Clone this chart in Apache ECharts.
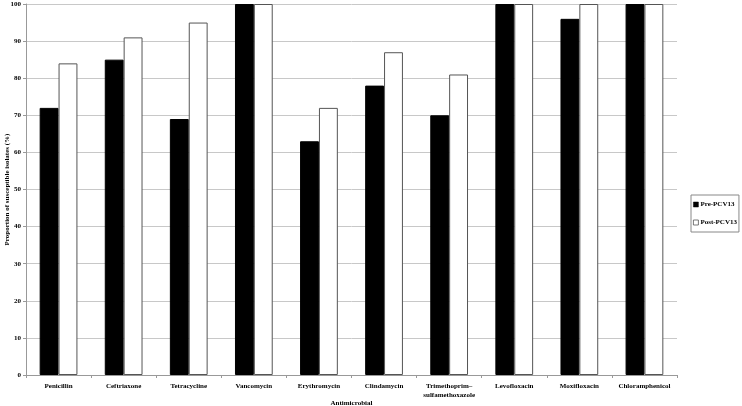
<!DOCTYPE html>
<html><head><meta charset="utf-8">
<script src="https://cdn.jsdelivr.net/npm/echarts@6/dist/echarts.min.js"></script>
<style>html,body{margin:0;padding:0;background:#fff}#c{width:742px;height:406px}</style>
</head><body><div id="c"></div>
<script>
const categories = ['Penicillin','Ceftriaxone','Tetracycline','Vancomycin','Erythromycin','Clindamycin','Trimethoprim–\nsulfamethoxazole','Levofloxacin','Moxifloxacin','Chloramphenicol'];
const prePCV13 = [72, 85, 69, 100, 63, 78, 70, 100, 96, 100];
const postPCV13 = [84, 91, 95, 100, 72, 87, 81, 100, 100, 100];
const yTicks = [0,10,20,30,40,50,60,70,80,90,100];

const font = 'Liberation Serif';
const chart = echarts.init(document.getElementById('c'));
chart.setOption({
  animation: false,
  textStyle: {fontFamily: font},
  grid: {left: 26, right: 65, top: 4, bottom: 31, containLabel: false, outerBoundsMode: 'none'},
  legend: {
    orient: 'vertical', left: 691, top: 195, itemWidth: 5, itemHeight: 5, itemGap: 11,
    padding: [6, 2, 6, 2], borderColor: '#888', borderWidth: 1,
    textStyle: {fontFamily: font, fontSize: 7, fontWeight: 'bold', color: '#000', padding: [0,0,0,-3]},
    data: [
      {name: 'Pre-PCV13', icon: 'rect', itemStyle: {color: '#000', borderColor: '#000', borderWidth: 0.5}},
      {name: 'Post-PCV13', icon: 'rect', itemStyle: {color: '#fff', borderColor: '#555', borderWidth: 0.8}}
    ]
  },
  xAxis: {
    type: 'category', data: categories,
    name: 'Antimicrobial', nameLocation: 'middle', nameGap: 25, nameMoveOverlap: false,
    nameTextStyle: {fontFamily: font, fontSize: 7, fontWeight: 'bold', color: '#000'},
    axisLine: {lineStyle: {color: '#999', width: 1}},
    axisTick: {show: true, length: 3, lineStyle: {color: '#999'}},
    axisLabel: {fontFamily: font, fontSize: 7, fontWeight: 'bold', color: '#000', margin: 7, interval: 0, lineHeight: 9}
  },
  yAxis: {
    type: 'value', min: 0, max: 100, interval: 10,
    name: 'Proportion of susceptible isolates (%)', nameLocation: 'middle', nameGap: 15, nameRotate: 90, nameMoveOverlap: false,
    nameTextStyle: {fontFamily: font, fontSize: 7, fontWeight: 'bold', color: '#000'},
    axisLine: {show: true, lineStyle: {color: '#999', width: 1}},
    axisTick: {show: true, length: 3, inside: false, lineStyle: {color: '#999'}},
    splitLine: {lineStyle: {color: '#c8c8c8', width: 1}},
    axisLabel: {fontFamily: font, fontSize: 7, fontWeight: 'bold', color: '#000', margin: 5,
      formatter: v => yTicks.includes(v) ? String(v) : ''}
  },
  series: [
    {name: 'Pre-PCV13', type: 'bar', data: prePCV13, barGap: '0%', barCategoryGap: '42%',
     itemStyle: {color: '#000', borderColor: '#000', borderWidth: 1}},
    {name: 'Post-PCV13', type: 'bar', data: postPCV13, barGap: '0%', barCategoryGap: '42%',
     itemStyle: {color: '#fff', borderColor: '#555', borderWidth: 1}}
  ]
});
</script></body></html>
